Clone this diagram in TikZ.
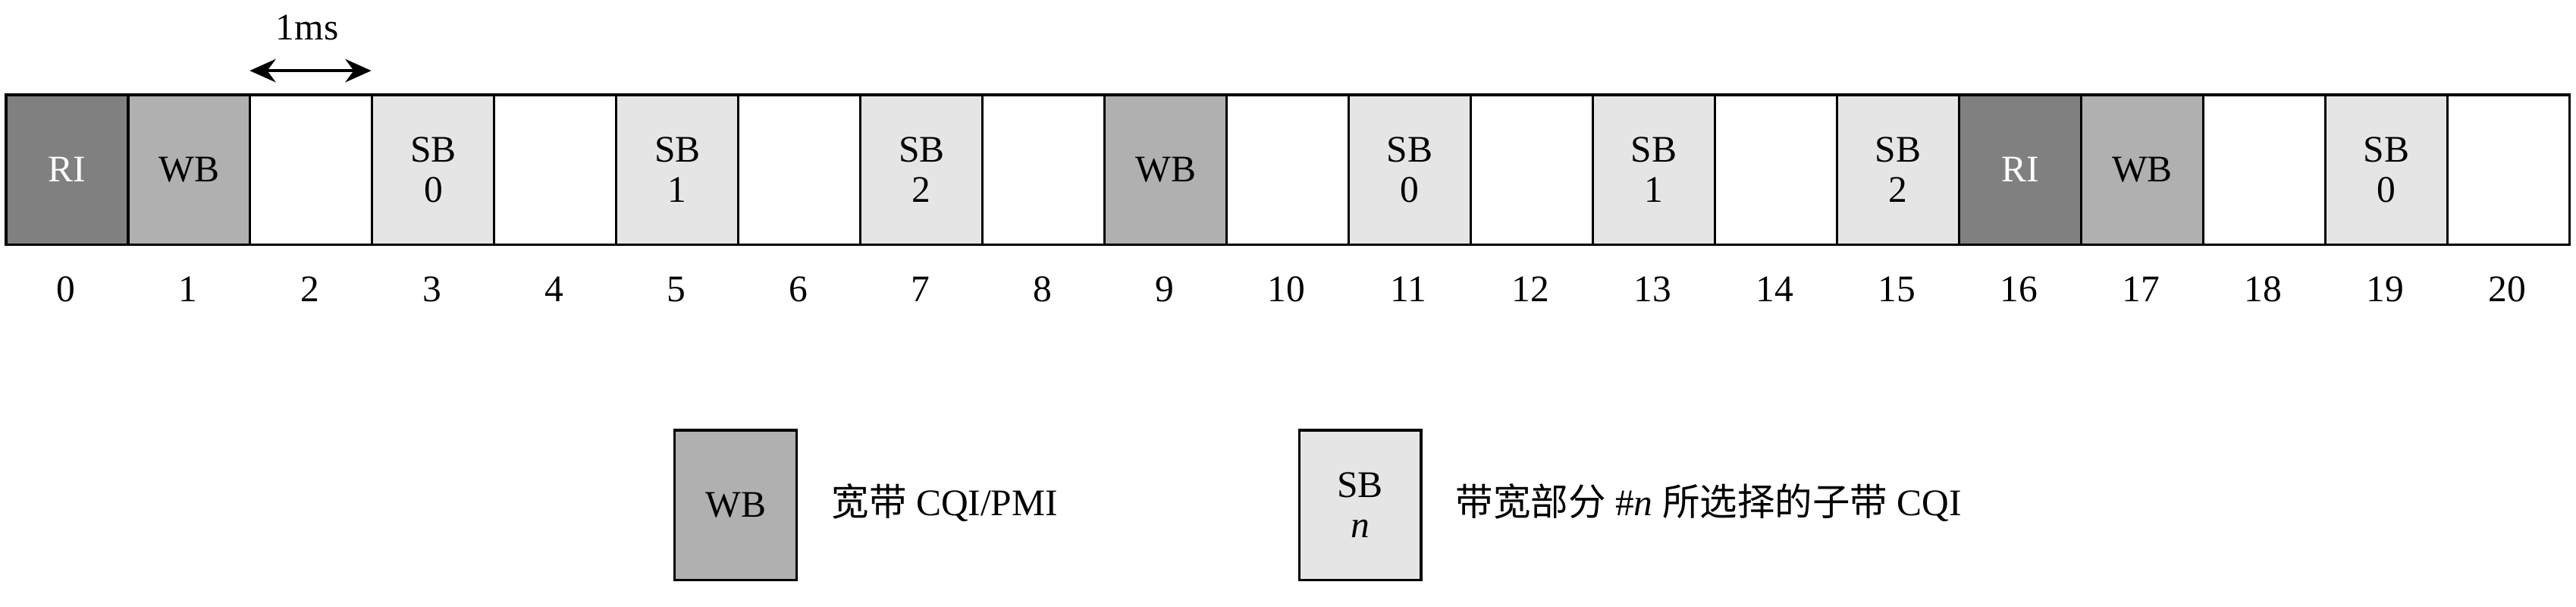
\documentclass[tikz,border=0pt]{standalone}
\usepackage{fontspec}
\setmainfont{Liberation Serif}
\newfontfamily\cjk{Noto Sans CJK SC}
\usetikzlibrary{arrows.meta}
\begin{document}
\begin{tikzpicture}[x=0.02cm,y=-0.02cm,
  cell/.style={draw,line width=0.8pt,minimum width=74.3*0.02cm,minimum height=91*0.02cm,anchor=north west,inner sep=0pt,align=center,font=\fontsize{13}{14}\selectfont},
  ri/.style={cell,fill=black!50,text=white},
  wb/.style={cell,fill=black!31},
  sb/.style={cell,fill=black!10},
  lbl/.style={font=\fontsize{13}{14}\selectfont}]
\useasboundingbox (0,0) rectangle (1568,369);
\foreach \i in {0,...,20}{
  \pgfmathsetmacro\xx{3+74.3*\i}
  \pgfmathsetmacro\xc{\xx+37.15}
  \node[cell] (c\i) at (\xx,57) {};
  \node[lbl] (n\i) at (\xc,176) {\i};
}
\node[ri] (r0) at (3+74.3*0,57) {RI};
\node[wb] (w1) at (3+74.3*1,57) {WB};
\node[sb] (s3) at (3+74.3*3,57) {SB\\0};
\node[sb] (s5) at (3+74.3*5,57) {SB\\1};
\node[sb] (s7) at (3+74.3*7,57) {SB\\2};
\node[wb] (w9) at (3+74.3*9,57) {WB};
\node[sb] (s11) at (3+74.3*11,57) {SB\\0};
\node[sb] (s13) at (3+74.3*13,57) {SB\\1};
\node[sb] (s15) at (3+74.3*15,57) {SB\\2};
\node[ri] (r16) at (3+74.3*16,57) {RI};
\node[wb] (w17) at (3+74.3*17,57) {WB};
\node[sb] (s19) at (3+74.3*19,57) {SB\\0};
\coordinate (a1) at (152,43);
\coordinate (a2) at (226,43);
\draw[{Stealth[length=9pt,width=8pt]}-{Stealth[length=9pt,width=8pt]},line width=1.2pt] (a1) -- (a2);
\node[lbl] (ms) at (187,17) {1ms};
\node[wb] (lw) at (410,261) {WB};
\node[lbl,anchor=west] (lwt) at (500,306) {{\cjk 宽带} CQI/PMI};
\node[sb] (ls) at (790,261) {SB\\\textit{n}};
\node[lbl,anchor=west] (lst) at (880,306) {{\cjk 带宽部分} \#\textit{n} {\cjk 所选择的子带} CQI};
\end{tikzpicture}
\end{document}
